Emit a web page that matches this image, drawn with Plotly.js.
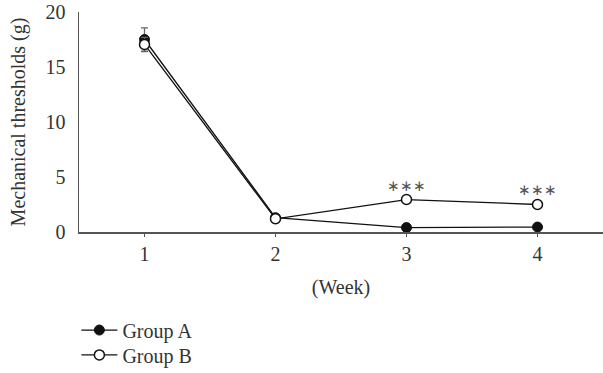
<!DOCTYPE html>
<html>
<head>
<meta charset="utf-8">
<script src="https://cdn.plot.ly/plotly-3.0.1.min.js"></script>
<style>html,body{margin:0;padding:0;background:#fff;}#chart{width:603px;height:373px;}</style>
</head>
<body>
<div id="chart"></div>
<script>
var weeks = [1, 2, 3, 4];
var weekLabels = ["1", "2", "3", "4"];
var groupA = [17.5, 1.3, 0.4, 0.45];
var groupAErr = [1.05, 0.2, 0.1, 0.1];
var groupB = [17.05, 1.2, 2.95, 2.5];
var groupBErr = [0.65, 0.35, 0.3, 0.3];
var sigWeeks = [3, 4];
var sigY = [4.2, 3.8];
var sigText = ["∗∗∗", "∗∗∗"];

var FONT = "Liberation Serif, Times New Roman, serif";
var INK = "#333333";
var FS = 20;

var traceA = {
  x: weeks, y: groupA, name: "Group A", type: "scatter", mode: "lines+markers",
  legend: "legend",
  line: {color: "#111111", width: 1.3},
  marker: {symbol: "circle", size: 10, color: "#111111", line: {color: "#111111", width: 1}},
  error_y: {type: "data", array: groupAErr, visible: true, color: "#666666", thickness: 1.3, width: 3.5}
};
var traceB = {
  x: weeks, y: groupB, name: "Group B", type: "scatter", mode: "lines+markers",
  legend: "legend2",
  line: {color: "#111111", width: 1.3},
  marker: {symbol: "circle", size: 10, color: "#ffffff", line: {color: "#111111", width: 1.5}},
  error_y: {type: "data", array: groupBErr, visible: true, color: "#666666", thickness: 1.3, width: 3.5}
};

var annotations = sigWeeks.map(function (w, i) {
  return {x: w, y: sigY[i], xref: "x", yref: "y", text: sigText[i], showarrow: false,
    font: {family: FONT, size: 15, color: "#555555"}};
});

function legendAt(y) {
  return {x: -0.005, xanchor: "left", y: y, yanchor: "top", orientation: "v", itemwidth: 36,
    font: {family: FONT, size: FS, color: INK}, bgcolor: "rgba(0,0,0,0)"};
}

var layout = {
  width: 603, height: 373,
  margin: {l: 79, r: 0, t: 12, b: 141, autoexpand: false},
  paper_bgcolor: "#ffffff", plot_bgcolor: "#ffffff",
  font: {family: FONT, size: FS, color: INK},
  showlegend: true,
  legend: legendAt(-0.357),
  legend2: legendAt(-0.47),
  xaxis: {
    range: [0.5, 4.5], tickvals: weeks, ticktext: weekLabels,
    showgrid: false, zeroline: false, showline: true, linecolor: "#555555", linewidth: 1.5,
    ticks: "outside", ticklen: 3, tickcolor: "#555555", tickwidth: 1,
    tickfont: {family: FONT, size: FS, color: INK},
    title: {text: "(Week)", font: {family: FONT, size: FS, color: INK}, standoff: 16}
  },
  yaxis: {
    range: [0, 20], tickvals: [0, 5, 10, 15, 20],
    showgrid: false, zeroline: false, showline: true, linecolor: "#555555", linewidth: 1.5,
    ticks: "", ticklabelstandoff: 8,
    tickfont: {family: FONT, size: FS, color: INK},
    title: {text: "Mechanical thresholds (g)", font: {family: FONT, size: FS, color: INK}, standoff: 14}
  },
  annotations: annotations
};

Plotly.newPlot("chart", [traceA, traceB], layout, {displayModeBar: false, staticPlot: true});
</script>
</body>
</html>
